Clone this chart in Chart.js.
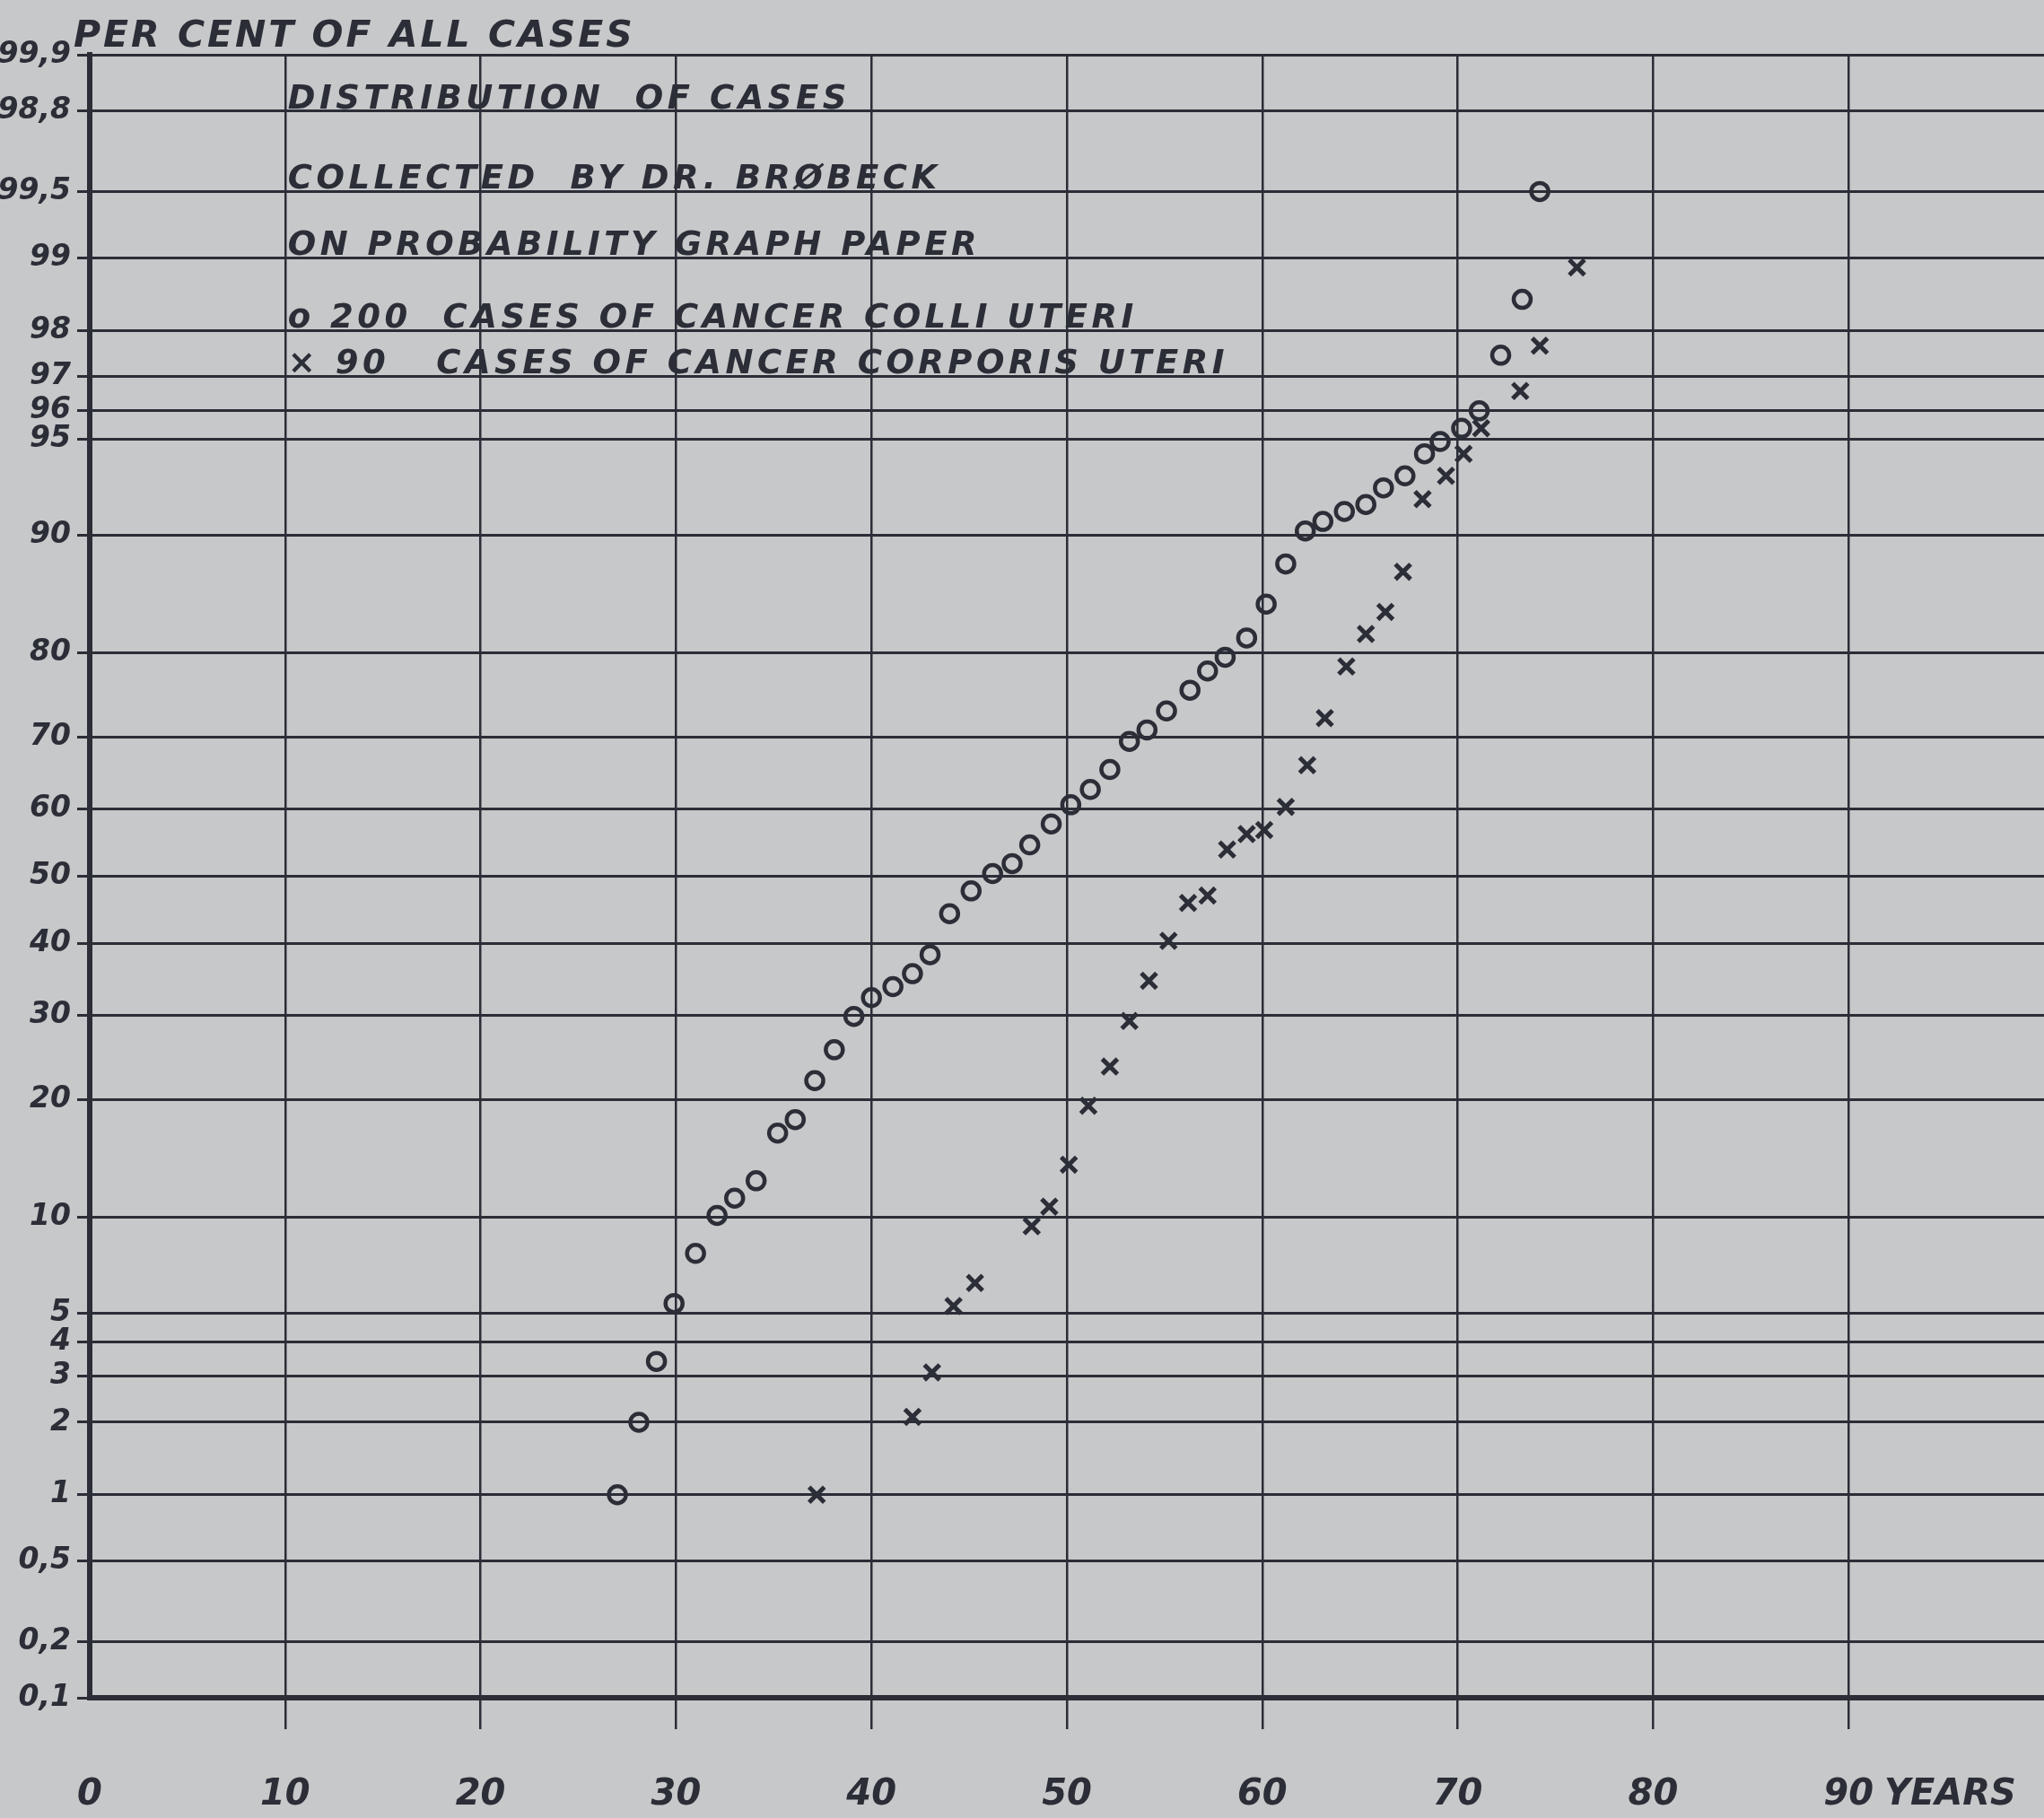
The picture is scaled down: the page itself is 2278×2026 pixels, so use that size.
<!DOCTYPE html>
<html>
<head>
<meta charset="utf-8">
<title>Distribution of cases on probability graph paper</title>
<script src="https://cdn.jsdelivr.net/npm/chart.js@4.4.1/dist/chart.umd.min.js"></script>
<style>
  html, body { margin: 0; padding: 0; background: #c6c8c9; overflow: hidden; }
  canvas { display: block; }
</style>
</head>
<body>
<canvas id="probability-chart" width="2278" height="2026"></canvas>
<script>
// Cancer colli uteri (circles): age in years, cumulative per cent of cases
const colliAges = [27.0, 28.1, 29.0, 29.9, 31.0, 32.1, 33.0, 34.1, 35.2, 36.1,
    37.1, 38.1, 39.1, 40.0, 41.1, 42.1, 43.0, 44.0, 45.1, 46.2,
    47.2, 48.1, 49.2, 50.2, 51.2, 52.2, 53.2, 54.1, 55.1, 56.3,
    57.2, 58.1, 59.2, 60.2, 61.2, 62.2, 63.1, 64.2, 65.3, 66.2,
    67.3, 68.3, 69.1, 70.2, 71.1, 72.2, 73.3, 74.2];
const colliPercent = [1.0, 2.0, 3.4, 5.4, 7.8, 10.1, 11.3, 12.6, 16.7, 18.0,
    22.1, 25.7, 29.9, 32.4, 33.9, 35.7, 38.4, 44.4, 47.8, 50.4,
    51.9, 54.7, 57.8, 60.6, 62.8, 65.6, 69.4, 70.9, 73.3, 75.8,
    78.0, 79.5, 81.5, 84.7, 88.0, 90.3, 90.9, 91.5, 91.9, 92.8,
    93.4, 94.4, 94.9, 95.4, 96.0, 97.5, 98.5, 99.5];

// Cancer corporis uteri (crosses)
const corporisAges = [37.2, 42.1, 43.1, 44.2, 45.3, 48.2, 49.1, 50.1, 51.1, 52.2,
    53.2, 54.2, 55.2, 56.2, 57.2, 58.2, 59.2, 60.1, 61.2, 62.3,
    63.2, 64.3, 65.3, 66.3, 67.2, 68.2, 69.4, 70.3, 71.2, 73.2,
    74.2, 76.1];
const corporisPercent = [1.0, 2.1, 3.1, 5.3, 6.3, 9.4, 10.7, 13.9, 19.4, 23.7,
    29.3, 34.7, 40.4, 46.0, 47.1, 54.0, 56.3, 56.9, 60.3, 66.2,
    72.4, 78.5, 81.9, 84.0, 87.4, 92.2, 93.4, 94.4, 95.4, 96.6,
    97.7, 98.9];

const percentTicks = [0.1, 0.2, 0.5, 1, 2, 3, 4, 5, 10, 20, 30, 40, 50, 60, 70, 80, 90, 95, 96, 97, 98, 99, 99.5, 99.8, 99.9];
const percentLabels = ['0,1', '0,2', '0,5', '1', '2', '3', '4', '5', '10', '20', '30', '40', '50', '60', '70', '80', '90', '95', '96', '97', '98', '99', '99,5', '98,8', '99,9'];
const ageTicks = [0, 10, 20, 30, 40, 50, 60, 70, 80, 90];
const ageLabels = ['0', '10', '20', '30', '40', '50', '60', '70', '80', '90'];

const titleText = 'PER CENT OF ALL CASES';
const noteLines = [
    'DISTRIBUTION  OF CASES',
    'COLLECTED  BY DR. BRØBECK',
    'ON PROBABILITY GRAPH PAPER',
    'o 200  CASES OF CANCER COLLI UTERI',
    '× 90   CASES OF CANCER CORPORIS UTERI'
];

const PAPER = '#c6c8c9';
const INK = '#2b2d37';
const FONT = '"DejaVu Sans", "Liberation Sans", sans-serif';

// inverse of the normal distribution (Acklam), p in (0, 1)
function probit(p) {
    const a = [-39.69683028665376, 220.9460984245205, -275.9285104469687, 138.3577518672690, -30.66479806614716, 2.506628277459239];
    const b = [-54.47609879822406, 161.5858368580409, -155.6989798598866, 66.80131188771972, -13.28068155288572];
    const c = [-0.007784894002430293, -0.3223964580411365, -2.400758277161838, -2.549732539343734, 4.374664141464968, 2.938163982698783];
    const d = [0.007784695709041462, 0.3224671290700398, 2.445134137142996, 3.754408661907416];
    const pLow = 0.02425;
    let q, r;
    if (p < pLow) {
        q = Math.sqrt(-2 * Math.log(p));
        return (((((c[0] * q + c[1]) * q + c[2]) * q + c[3]) * q + c[4]) * q + c[5]) /
            ((((d[0] * q + d[1]) * q + d[2]) * q + d[3]) * q + 1);
    }
    if (p <= 1 - pLow) {
        q = p - 0.5;
        r = q * q;
        return (((((a[0] * r + a[1]) * r + a[2]) * r + a[3]) * r + a[4]) * r + a[5]) * q /
            (((((b[0] * r + b[1]) * r + b[2]) * r + b[3]) * r + b[4]) * r + 1);
    }
    q = Math.sqrt(-2 * Math.log(1 - p));
    return -(((((c[0] * q + c[1]) * q + c[2]) * q + c[3]) * q + c[4]) * q + c[5]) /
        ((((d[0] * q + d[1]) * q + d[2]) * q + d[3]) * q + 1);
}

// Probability paper axis: per cent values placed by their normal quantile
class ProbabilityScale extends Chart.Scale {
    static id = 'probability';
    static defaults = {};

    determineDataLimits() {
        this.min = this.options.min ?? percentTicks[0];
        this.max = this.options.max ?? percentTicks[percentTicks.length - 1];
    }

    buildTicks() {
        return percentTicks.map(v => ({ value: v }));
    }

    configure() {
        super.configure();
        this._zStart = probit(this.min / 100);
        this._zEnd = probit(this.max / 100);
    }

    getPixelForValue(value) {
        const z = probit(value / 100);
        return this.getPixelForDecimal((z - this._zStart) / (this._zEnd - this._zStart));
    }

    getValueForPixel(pixel) {
        // bisection is plenty here, only used for hit testing
        let lo = this.min, hi = this.max;
        for (let i = 0; i < 40; i++) {
            const mid = (lo + hi) / 2;
            if (this.getPixelForValue(mid) > pixel) lo = mid; else hi = mid;
        }
        return (lo + hi) / 2;
    }
}
Chart.register(ProbabilityScale);

const paperPlugin = {
    id: 'paper',
    beforeDraw(chart) {
        const { ctx, width, height } = chart;
        ctx.save();
        ctx.fillStyle = PAPER;
        ctx.fillRect(0, 0, width, height);
        ctx.restore();
    },
    afterDraw(chart) {
        const { ctx } = chart;
        const x = chart.scales.x;
        const y = chart.scales.y;
        ctx.save();
        ctx.fillStyle = INK;
        ctx.textAlign = 'left';
        ctx.textBaseline = 'alphabetic';

        ctx.font = 'italic bold 41px ' + FONT;
        ctx.letterSpacing = '3px';
        ctx.fillText(titleText, 82, 52);

        // note block sits on the upper grid lines
        const noteRows = [99.8, 99.5, 99, 98, 97];
        ctx.font = 'italic bold 37px ' + FONT;
        ctx.letterSpacing = '4.5px';
        const left = x.getPixelForValue(10) + 3;
        noteLines.forEach((line, i) => {
            ctx.fillText(line, left, y.getPixelForValue(noteRows[i]) - 3);
        });

        // unit after the last age label
        const tickFont = x.options.ticks.font;
        ctx.font = 'italic bold ' + tickFont.size + 'px ' + FONT;
        ctx.letterSpacing = '0px';
        ctx.textBaseline = 'middle';
        const labelY = x.top + x.options.grid.tickLength + x.options.ticks.padding + tickFont.size * 1.2 / 2;
        const px = x.getPixelForValue(90) + ctx.measureText('90').width / 2 + 12;
        ctx.fillText('YEARS', px, labelY);
        ctx.restore();
    }
};

const ctx = document.getElementById('probability-chart').getContext('2d');
new Chart(ctx, {
    type: 'scatter',
    data: {
        datasets: [
            {
                label: '200 cases of cancer colli uteri',
                data: colliAges.map((age, i) => ({ x: age, y: colliPercent[i] })),
                pointStyle: 'circle',
                pointRadius: 9.5,
                pointBorderWidth: 4.5,
                pointBorderColor: INK,
                pointBackgroundColor: 'rgba(0,0,0,0)'
            },
            {
                label: '90 cases of cancer corporis uteri',
                data: corporisAges.map((age, i) => ({ x: age, y: corporisPercent[i] })),
                pointStyle: 'crossRot',
                pointRadius: 12,
                pointBorderWidth: 5,
                pointBorderColor: INK,
                pointBackgroundColor: INK
            }
        ]
    },
    options: {
        responsive: false,
        animation: false,
        events: [],
        // the sheet runs off the right edge, so no room is kept for point overflow
        layout: { autoPadding: false, padding: { top: 61, right: 0, bottom: 0, left: 0 } },
        plugins: {
            legend: { display: false },
            tooltip: { enabled: false },
            title: { display: false }
        },
        scales: {
            x: {
                type: 'linear',
                min: 0,
                max: 100,
                afterBuildTicks: scale => { scale.ticks = ageTicks.map(v => ({ value: v })); },
                afterFit: scale => {
                    scale.height = 134;
                    scale.paddingLeft = 0;
                    scale.paddingRight = 0;
                },
                ticks: {
                    autoSkip: false,
                    maxRotation: 0,
                    padding: 50,
                    color: INK,
                    font: { family: FONT, size: 40, style: 'italic', weight: 'bold' },
                    callback: (value, index) => ageLabels[index]
                },
                grid: {
                    color: c => (c.tick && c.tick.value === 0 ? 'rgba(0,0,0,0)' : INK),
                    lineWidth: 2.5,
                    tickLength: 35,
                    drawTicks: true
                },
                border: { display: true, color: INK, width: 6 }
            },
            y: {
                type: 'probability',
                min: 0.1,
                max: 99.9,
                afterFit: scale => {
                    scale.width = 100;
                    scale.paddingTop = 0;
                    scale.paddingBottom = 0;
                },
                ticks: {
                    autoSkip: false,
                    padding: 7,
                    color: INK,
                    font: { family: FONT, size: 33, style: 'italic', weight: 'bold' },
                    callback: (value, index) => percentLabels[index]
                },
                grid: {
                    color: INK,
                    lineWidth: 3,
                    tickLength: 14,
                    drawTicks: true
                },
                border: { display: true, color: INK, width: 6 }
            }
        }
    },
    plugins: [paperPlugin]
});
</script>
</body>
</html>
